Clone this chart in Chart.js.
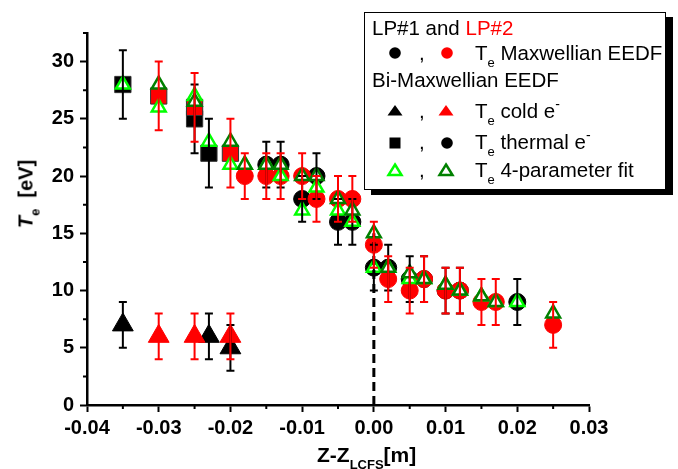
<!DOCTYPE html>
<html>
<head>
<meta charset="utf-8">
<script src="https://cdn.jsdelivr.net/npm/chart.js@4.4.0/dist/chart.umd.min.js"></script>
<style>
  body { margin: 0; background: #fff; }
  #wrap { position: relative; width: 678px; height: 469px; font-family: "Liberation Sans", Arial, sans-serif; color: #000; }
  #c { position: absolute; left: 0; top: 0; }
  .ytitle { position: absolute; left: 26px; top: 194px; transform: translate(-50%, -50%) rotate(-90deg); white-space: nowrap; font-weight: bold; font-size: 20px; }
  .xtitle { position: absolute; left: 317px; top: 444px; white-space: nowrap; font-weight: bold; font-size: 21px; line-height: 21px; }
  .sub { font-size: 13px; position: relative; top: 7px; }
  .legend { position: absolute; left: 364px; top: 12px; width: 300px; height: 176px; border: 1px solid #000; background: #fff; box-shadow: 7px 5px 0 #000; }
  .row { position: absolute; left: 0; width: 300px; height: 20px; font-size: 20.5px; line-height: 20px; white-space: nowrap; }
  .row span.t { position: absolute; left: 110px; }
  .row span.cm { position: absolute; left: 54px; }
  .mk { position: absolute; width: 20px; height: 20px; }
  .sup { font-size: 14px; position: relative; top: -9px; }
</style>
</head>
<body>
<div id="wrap">
  <canvas id="c" width="678" height="469"></canvas>
  <div class="ytitle"><i>T</i><span class="sub">e</span>&nbsp;&nbsp;[eV]</div>
  <div class="xtitle">Z-Z<span class="sub">LCFS</span>[m]</div>
  <div class="legend">
    <div class="row" style="top:5px;left:7px">LP#1 and <span style="color:#f00">LP#2</span></div>
    <div class="row" style="top:30px"><span class="cm">,</span><span class="t">T<span class="sub">e</span> Maxwellian EEDF</span></div>
    <div class="row" style="top:57px;left:7px">Bi-Maxwellian EEDF</div>
    <div class="row" style="top:88px"><span class="cm">,</span><span class="t">T<span class="sub">e</span> cold e<span class="sup">-</span></span></div>
    <div class="row" style="top:119px"><span class="cm">,</span><span class="t">T<span class="sub">e</span> thermal e<span class="sup">-</span></span></div>
    <div class="row" style="top:147px"><span class="cm">,</span><span class="t">T<span class="sub">e</span> 4-parameter fit</span></div>

    <svg class="mk" style="left:20px;top:30px"><circle cx="10" cy="10" r="5.8" fill="#000"/></svg>
    <svg class="mk" style="left:72px;top:30px"><circle cx="10" cy="10" r="5.8" fill="#f00"/></svg>
    <svg class="mk" style="left:20px;top:88px"><polygon points="10,4 17.5,14.5 2.5,14.5" fill="#000"/></svg>
    <svg class="mk" style="left:71px;top:88px"><polygon points="10,4 17.5,14.5 2.5,14.5" fill="#f00"/></svg>
    <svg class="mk" style="left:20px;top:120px"><rect x="4.5" y="4.5" width="11" height="11" fill="#000"/></svg>
    <svg class="mk" style="left:72px;top:120px"><circle cx="10" cy="10" r="5.8" fill="#000"/></svg>
    <svg class="mk" style="left:20px;top:147px"><polygon points="10,4.5 16.5,15 3.5,15" fill="#fff" stroke="#00ff00" stroke-width="2.5"/></svg>
    <svg class="mk" style="left:71px;top:147px"><polygon points="10,4.5 16.5,15 3.5,15" fill="#fff" stroke="#008000" stroke-width="2.5"/></svg>
  </div>
</div>
<script>
// LP#1 (black) and LP#2 (red), Maxwellian EEDF
const maxLP1X = [-0.015, -0.013, -0.010, -0.008, -0.005, -0.003, 0.000, 0.002, 0.005, 0.007, 0.010, 0.012, 0.020];
const maxLP1Y = [21, 21, 18, 20, 16, 16, 12, 12, 11, 11, 10, 10, 9];
const maxLP1Err = [2, 2, 2, 2, 2, 2, 2, 2, 2, 2, 2, 2, 2];

const maxLP2X = [-0.018, -0.015, -0.013, -0.010, -0.008, -0.005, -0.003, 0.000, 0.002, 0.005, 0.007, 0.010, 0.012, 0.015, 0.017, 0.025];
const maxLP2Y = [20, 20, 20, 20, 18, 18, 18, 14, 11, 10, 11, 10, 10, 9, 9, 7];
const maxLP2Err = [2, 2, 2, 2, 2, 2, 2, 2, 2, 2, 2, 2, 2, 2, 2, 2];

// Bi-Maxwellian: cold electrons
const coldLP1X = [-0.035, -0.023, -0.020];
const coldLP1Y = [7, 6, 5];
const coldLP1Err = [2, 2, 2];
const coldLP2X = [-0.030, -0.025, -0.020];
const coldLP2Y = [6, 6, 6];
const coldLP2Err = [2, 2, 2];

// Bi-Maxwellian: thermal electrons
const thermLP1X = [-0.035, -0.025, -0.023];
const thermLP1Y = [28, 25, 22];
const thermLP1Err = [3, 3, 3];
const thermLP2X = [-0.030, -0.025, -0.020];
const thermLP2Y = [27, 26, 22];
const thermLP2Err = [3, 3, 3];

// 4-parameter fit
const fitLP1X = [-0.035, -0.030, -0.025, -0.023, -0.020, -0.018, -0.015, -0.013, -0.010, -0.008, -0.005, -0.003, 0.000, 0.002, 0.005, 0.007, 0.010, 0.012, 0.015, 0.017, 0.020];
const fitLP1Y = [28, 26, 27, 23, 21, 21, 21, 20, 17, 19, 17, 16, 12, 12, 11, 11, 10.5, 10, 9.5, 9, 9];
const fitLP2X = [-0.030, -0.025, -0.020, -0.018, -0.015, -0.013, -0.010, -0.008, -0.005, -0.003, 0.000, 0.002, 0.005, 0.007, 0.010, 0.012, 0.015, 0.017, 0.025];
const fitLP2Y = [28, 26.5, 23, 21, 21, 21, 20, 20, 18, 17, 15, 12, 11.5, 11, 10.5, 10, 9.5, 9, 8];

// LCFS marker
const lcfsX = [0, 0];
const lcfsY = [0, 15];

const xTicks = [-0.04, -0.03, -0.02, -0.01, 0, 0.01, 0.02, 0.03];
const yTicks = [0, 5, 10, 15, 20, 25, 30];

function pts(xs, ys) {
  return xs.map((x, i) => ({ x: x, y: ys[i] }));
}

const errorBars = {
  id: 'errorBars',
  afterDatasetsDraw(chart) {
    const ctx = chart.ctx;
    const xs = chart.scales.x, ys = chart.scales.y;
    ctx.save();
    ctx.lineWidth = 2;
    for (let i = chart.data.datasets.length - 1; i >= 0; i--) {
      const ds = chart.data.datasets[i];
      if (!ds.errors) continue;
      ctx.strokeStyle = ds.errColor;
      ds.data.forEach((p, j) => {
        const px = xs.getPixelForValue(p.x);
        const top = ys.getPixelForValue(p.y + ds.errors[j]);
        const bot = ys.getPixelForValue(p.y - ds.errors[j]);
        ctx.beginPath();
        ctx.moveTo(px, top); ctx.lineTo(px, bot);
        ctx.moveTo(px - 4, top); ctx.lineTo(px + 4, top);
        ctx.moveTo(px - 4, bot); ctx.lineTo(px + 4, bot);
        ctx.stroke();
      });
    }
    ctx.restore();
  }
};

// short minor ticks between the labelled ones
const minorTicks = {
  id: 'minorTicks',
  afterDraw(chart) {
    const ctx = chart.ctx;
    const xs = chart.scales.x, ys = chart.scales.y;
    const a = chart.chartArea;
    ctx.save();
    ctx.strokeStyle = '#000';
    ctx.lineWidth = 2;
    ctx.beginPath();
    for (let k = 0; k < xTicks.length - 1; k++) {
      const px = xs.getPixelForValue((xTicks[k] + xTicks[k + 1]) / 2);
      ctx.moveTo(px, a.bottom); ctx.lineTo(px, a.bottom + 4);
    }
    for (let k = 0; k < yTicks.length; k++) {
      const py = ys.getPixelForValue(yTicks[k] + 2.5);
      ctx.moveTo(a.left, py); ctx.lineTo(a.left - 4, py);
    }
    ctx.stroke();
    ctx.restore();
  }
};

const tickFont = { family: 'Liberation Sans', weight: 'bold', size: 20 };

const ctx = document.getElementById('c');
const myChart = new Chart(ctx, {
  type: 'scatter',
  data: {
    datasets: [
      { data: pts(lcfsX, lcfsY), type: 'line', showLine: true, borderColor: '#000', borderWidth: 3, borderDash: [9, 5], pointRadius: 0, fill: false },
      { data: pts(fitLP2X, fitLP2Y), pointStyle: 'triangle', pointRadius: 8, borderWidth: 2.5, borderColor: '#008000', backgroundColor: '#fff' },
      { data: pts(fitLP1X, fitLP1Y), pointStyle: 'triangle', pointRadius: 8, borderWidth: 2.5, borderColor: '#00ff00', backgroundColor: '#fff' },
      { data: pts(coldLP2X, coldLP2Y), errors: coldLP2Err, errColor: '#f00', pointStyle: 'triangle', pointRadius: 12, borderWidth: 1, borderColor: '#f00', backgroundColor: '#f00' },
      { data: pts(coldLP1X, coldLP1Y), errors: coldLP1Err, errColor: '#000', pointStyle: 'triangle', pointRadius: 12, borderWidth: 1, borderColor: '#000', backgroundColor: '#000' },
      { data: pts(thermLP2X, thermLP2Y), errors: thermLP2Err, errColor: '#f00', pointStyle: 'rect', pointRadius: 11.5, borderWidth: 1, borderColor: '#333', backgroundColor: '#f00' },
      { data: pts(thermLP1X, thermLP1Y), errors: thermLP1Err, errColor: '#000', pointStyle: 'rect', pointRadius: 11.5, borderWidth: 1, borderColor: '#333', backgroundColor: '#000' },
      { data: pts(maxLP2X, maxLP2Y), errors: maxLP2Err, errColor: '#f00', pointStyle: 'circle', pointRadius: 8.5, borderWidth: 1, borderColor: '#f00', backgroundColor: '#f00' },
      { data: pts(maxLP1X, maxLP1Y), errors: maxLP1Err, errColor: '#000', pointStyle: 'circle', pointRadius: 8.5, borderWidth: 1, borderColor: '#000', backgroundColor: '#000' }
    ]
  },
  options: {
    responsive: false,
    animation: false,
    events: [],
    layout: { padding: { top: 33, right: 89, left: 0, bottom: 0 } },
    plugins: { legend: { display: false }, tooltip: { enabled: false } },
    scales: {
      x: {
        type: 'linear',
        min: -0.04,
        max: 0.03,
        afterFit: (s) => { s.height = 64; },
        afterBuildTicks: (s) => { s.ticks = xTicks.map(v => ({ value: v })); },
        border: { display: true, color: '#000', width: 2.5 },
        grid: { display: true, drawOnChartArea: false, drawTicks: true, tickLength: 7, tickWidth: 2, tickColor: '#000' },
        ticks: {
          color: '#000', font: tickFont, padding: 4, maxRotation: 0,
          callback: (v) => (Math.abs(v) < 1e-9 ? 0 : v).toFixed(2)
        }
      },
      y: {
        type: 'linear',
        min: 0,
        max: 32.5,
        afterFit: (s) => { s.width = 87; },
        afterBuildTicks: (s) => { s.ticks = yTicks.map(v => ({ value: v })); },
        border: { display: true, color: '#000', width: 2.5 },
        grid: { display: true, drawOnChartArea: false, drawTicks: true, tickLength: 7, tickWidth: 2, tickColor: '#000' },
        ticks: { color: '#000', font: tickFont, padding: 6, callback: (v) => String(v) }
      }
    }
  },
  plugins: [errorBars, minorTicks]
});
</script>
</body>
</html>
